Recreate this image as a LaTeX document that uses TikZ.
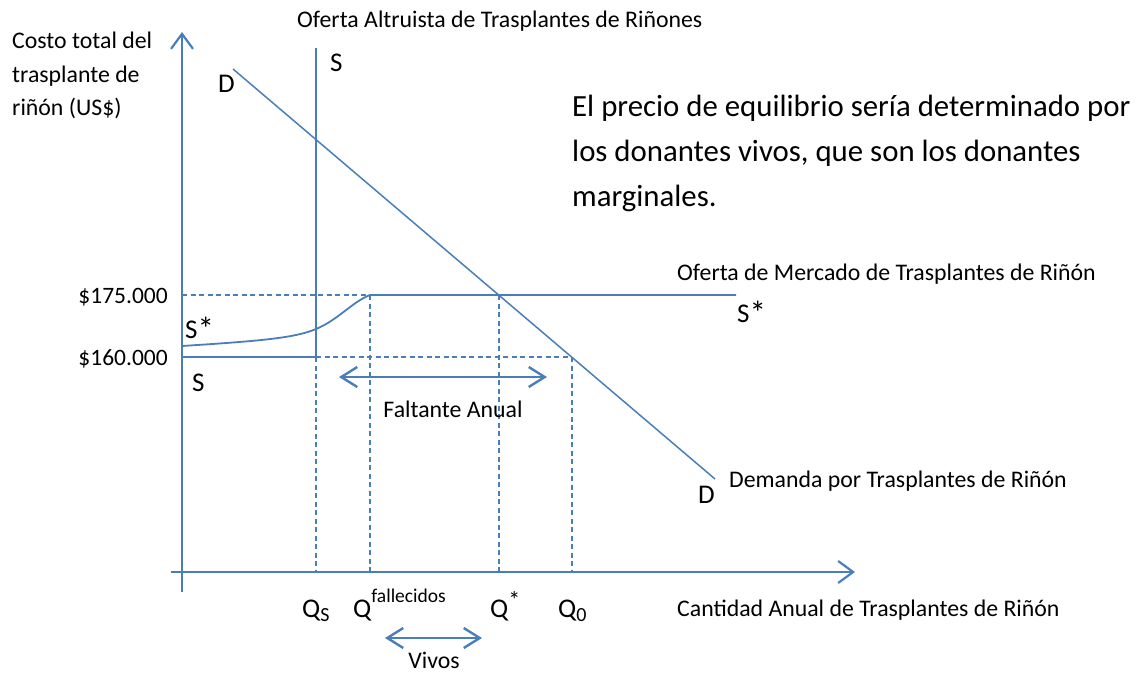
\documentclass[tikz,border=0pt]{standalone}
\usepackage{fontspec}
\setmainfont{Carlito}
\usetikzlibrary{arrows.meta}
\definecolor{curveblue}{RGB}{74,126,187}

\begin{document}
\begin{tikzpicture}[x=1pt,y=-1pt,
  axis/.style={curveblue,line width=2.6pt,-{Straight Barb[length=15pt,width=22pt,line width=2.2pt]}},
  curve/.style={curveblue,line width=1.8pt},
  guide/.style={curveblue,line width=1.6pt,dash pattern=on 5pt off 3.5pt},
  span/.style={curveblue,line width=2.4pt,{Straight Barb[length=16pt,width=20pt]}-{Straight Barb[length=16pt,width=20pt]}},
  txt/.style={font=\fontsize{23.8}{33.5}\selectfont,inner sep=0pt},
  sym/.style={font=\fontsize{27}{30}\selectfont,inner sep=0pt},
  price/.style={font=\fontsize{23.5}{26}\selectfont,inner sep=0pt},
  note/.style={font=\fontsize{30.8}{45}\selectfont,inner sep=0pt,align=left}]
\useasboundingbox (0,0) rectangle (1138,675);

% axes
\coordinate (ybot) at (182,592);
\coordinate (ytop) at (182,32);
\coordinate (xl) at (171,572);
\coordinate (xr) at (855,572);
\draw[axis] (ybot) -- (ytop);
\draw[axis] (xl) -- (xr);

% points of the curves
\coordinate (d1) at (233,69);
\coordinate (d2) at (715,479);
\coordinate (s1) at (316,48);
\coordinate (s2) at (316,357);
\coordinate (p160) at (182,357);
\coordinate (p175) at (182,295);
\coordinate (k) at (370,295);
\coordinate (e) at (499,295);
\coordinate (m) at (572,357);
\coordinate (sr) at (736,295);
\coordinate (s0) at (182,346);
\coordinate (sq) at (316,329);
\coordinate (qs) at (316,572);
\coordinate (qf) at (370,572);
\coordinate (qe) at (499,572);
\coordinate (q0) at (572,572);

\draw[curveblue,line width=1.5pt] (d1) -- (d2);
\draw[curve] (s1) -- (s2) -- (p160);
\draw[curve] (s0) .. controls (260,341) and (295,338) .. (sq)
  .. controls (338,320) and (352,302) .. (k) -- (sr);

\draw[guide] (p175) -- (k);
\draw[guide] (s2) -- (m);
\draw[guide] (s2) -- (qs);
\draw[guide] (k) -- (qf);
\draw[guide] (e) -- (qe);
\draw[guide] (m) -- (q0);

% double arrows
\coordinate (fa) at (339,377);
\coordinate (fb) at (547,377);
\coordinate (va) at (385,638);
\coordinate (vb) at (482,638);
\draw[span] (fa) -- (fb);
\draw[span] (va) -- (vb);

% labels
\node[txt,anchor=base west] (title) at (297,27) {Oferta Altruista de Trasplantes de Riñones};
\node[txt,anchor=base west] (ylab1) at (12,48) {Costo total del};
\node[txt,anchor=base west] (ylab2) at (12,82) {trasplante de};
\node[txt,anchor=base west] (ylab3) at (12,115) {riñón (US\$)};
\node[sym,anchor=base west] (stop) at (330,71) {S};
\node[sym,anchor=base west] (dtop) at (218,92) {D};
\node[note,anchor=base west] (note1) at (572,116) {El precio de equilibrio sería determinado por};
\node[note,anchor=base west] (note2) at (572,161) {los donantes vivos, que son los donantes};
\node[note,anchor=base west] (note3) at (572,206) {marginales.};
\node[price,anchor=base east] (l175) at (168,303) {\$175.000};
\node[price,anchor=base east] (l160) at (168,365) {\$160.000};
\node[sym,anchor=base west] (sstar) at (185,338) {S\raisebox{-2pt}{\fontsize{33}{33}\selectfont *}};
\node[sym,anchor=base west] (slow) at (192,391) {S};
\node[txt,anchor=base west] (mkt) at (677,280) {Oferta de Mercado de Trasplantes de Riñón};
\node[sym,anchor=base west] (sstar2) at (737,322) {S\raisebox{-2pt}{\fontsize{33}{33}\selectfont *}};
\node[txt,anchor=base west] (dem) at (729,487) {Demanda por Trasplantes de Riñón};
\node[sym,anchor=base west] (dlow) at (698,503) {D};
\node[txt,anchor=base] (falt) at (453,417) {Faltante Anual};
\node[txt,anchor=base] (vivos) at (434,668) {Vivos};
\node[txt,anchor=base west] (xlab) at (677,616) {Cantidad Anual de Trasplantes de Riñón};
\node[sym,anchor=base west] (lqs) at (302,617) {Q\raisebox{-4pt}{\fontsize{20}{20}\selectfont S}};
\node[sym,anchor=base west] (lqf) at (353,617) {Q\raisebox{15pt}{\fontsize{19.5}{20}\selectfont fallecidos}};
\node[sym,anchor=base west] (lqe) at (490,617) {Q\raisebox{9pt}{\fontsize{24}{24}\selectfont *}};
\node[sym,anchor=base west] (lq0) at (558,617) {Q\raisebox{-4pt}{\fontsize{20}{20}\selectfont 0}};
\end{tikzpicture}
\end{document}
